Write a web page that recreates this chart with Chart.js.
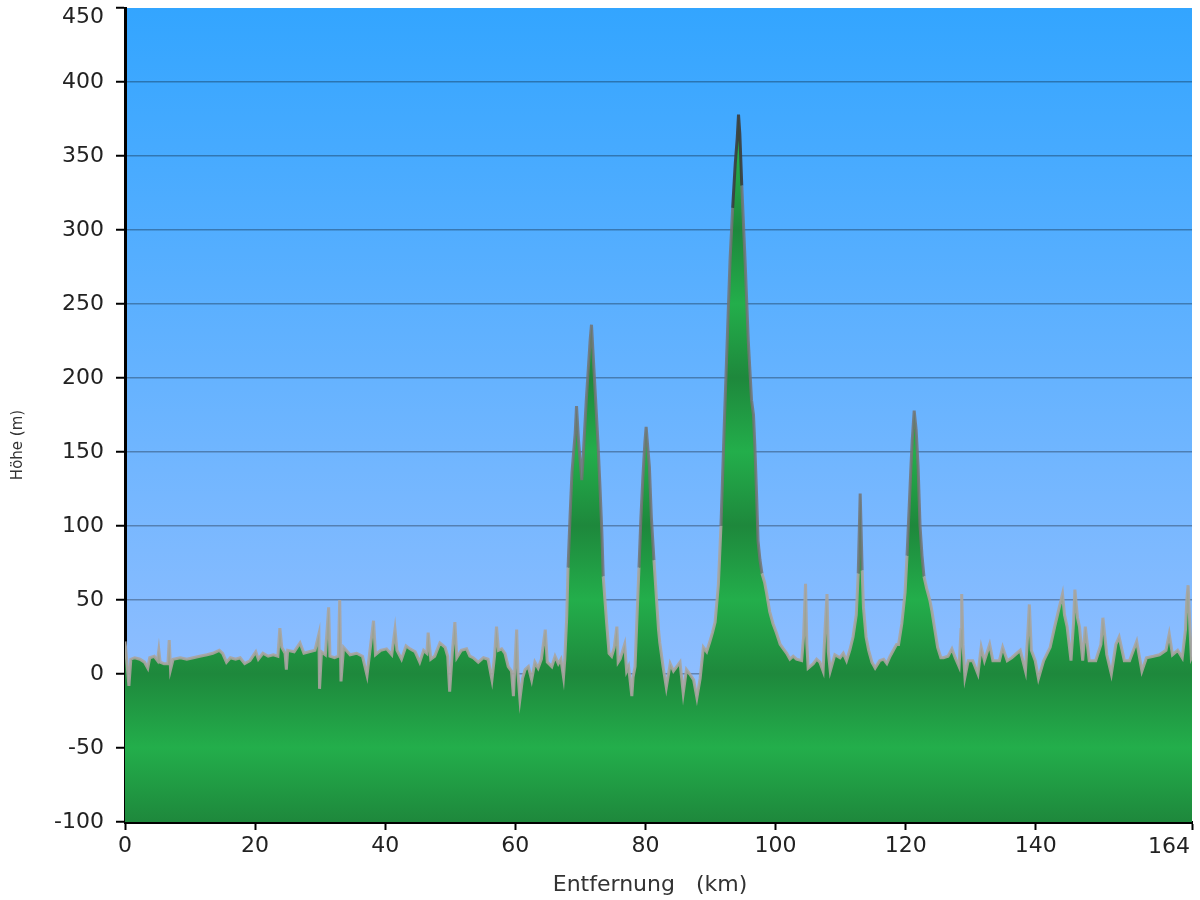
<!DOCTYPE html>
<html lang="de">
<head>
<meta charset="utf-8">
<title>Höhenprofil</title>
<script src="https://cdn.jsdelivr.net/npm/chart.js@4/dist/chart.umd.min.js"></script>
<style>
  html, body { margin: 0; padding: 0; background: #fff; }
  #wrap { width: 1200px; height: 900px; }
</style>
</head>
<body>
<div id="wrap"><canvas id="profil" width="1200" height="900"></canvas></div>
<script>
// ── Profile data ──
const entfernungKm = [
  0.0, 0.25, 0.6, 0.9, 1.5, 2.3, 3.0, 3.5, 3.8, 4.5,
  5.0, 5.2, 5.4, 6.0, 6.6, 6.8, 7.0, 7.4, 8.5, 9.5,
  10.5, 11.5, 12.6, 13.5, 14.5, 15.0, 15.6, 16.2, 17.0, 17.7,
  18.4, 19.2, 20.1, 20.5, 21.2, 22.0, 22.8, 23.5, 23.8, 24.1,
  24.6, 24.8, 25.0, 26.0, 26.9, 27.5, 28.3, 29.2, 29.8, 29.9,
  30.2, 30.8, 31.3, 31.5, 32.2, 32.8, 33.0, 33.2, 33.6, 34.6,
  35.6, 36.5, 37.2, 37.6, 38.2, 38.5, 39.3, 40.2, 41.0, 41.5,
  41.8, 42.5, 43.2, 43.8, 44.6, 45.3, 45.9, 46.4, 46.6, 47.0,
  47.6, 48.4, 49.2, 49.6, 49.9, 50.3, 50.7, 51.0, 51.7, 52.5,
  53.0, 53.5, 54.3, 55.1, 55.8, 56.4, 56.8, 57.1, 57.4, 57.9,
  58.4, 58.9, 59.4, 59.7, 60.2, 60.4, 60.7, 61.1, 61.5, 62.0,
  62.5, 63.0, 63.5, 64.0, 64.6, 64.9, 65.6, 66.1, 66.6, 67.0,
  67.4, 67.6, 67.9, 68.1, 68.4, 68.7, 68.9, 69.2, 69.4, 69.7,
  70.2, 70.4, 70.9, 71.5, 71.7, 72.2, 72.7, 73.0, 73.3, 73.5,
  74.0, 74.4, 74.8, 75.2, 75.6, 75.8, 76.1, 76.8, 77.1, 77.4,
  77.9, 78.1, 78.4, 78.7, 79.0, 79.3, 79.6, 79.9, 80.1, 80.3,
  80.6, 80.9, 81.3, 81.7, 82.0, 82.2, 82.7, 83.2, 83.8, 84.3,
  84.8, 85.3, 85.8, 86.3, 86.8, 87.4, 87.9, 88.4, 88.9, 89.4,
  89.9, 90.3, 90.7, 91.2, 91.6, 91.9, 92.2, 92.6, 93.0, 93.4,
  93.8, 94.1, 94.3, 94.5, 94.8, 95.3, 95.8, 96.3, 96.6, 96.8,
  97.1, 97.3, 97.6, 97.9, 98.3, 98.6, 99.1, 99.6, 100.1, 100.7,
  101.2, 101.7, 102.2, 102.7, 103.2, 104.0, 104.3, 104.6, 104.8, 105.0,
  105.8, 106.3, 106.8, 107.3, 107.6, 107.9, 108.1, 108.4, 109.1, 109.9,
  110.4, 110.9, 111.4, 111.9, 112.4, 112.7, 113.0, 113.3, 113.5, 113.9,
  114.3, 114.8, 115.3, 116.0, 116.6, 117.1, 117.6, 118.1, 118.6, 118.9,
  119.4, 119.9, 120.2, 120.5, 120.8, 121.0, 121.3, 121.6, 121.9, 122.2,
  122.5, 122.8, 123.2, 123.7, 124.0, 124.4, 124.9, 125.4, 125.8, 126.5,
  127.1, 127.6, 128.2, 128.5, 128.6, 128.8, 129.1, 129.6, 130.3, 131.1,
  131.6, 132.1, 132.9, 133.4, 134.4, 134.9, 135.6, 136.3, 137.6, 138.4,
  138.8, 139.0, 139.3, 139.9, 140.4, 141.2, 142.2, 142.9, 143.6, 144.1,
  144.4, 144.8, 145.4, 145.8, 146.0, 146.4, 146.7, 147.2, 147.6, 148.2,
  149.2, 150.0, 150.3, 150.9, 151.6, 152.3, 152.8, 153.6, 154.4, 155.5,
  156.3, 157.0, 158.1, 159.0, 160.0, 160.5, 161.0, 161.8, 162.5, 163.0,
  163.2, 163.4, 163.7, 163.9, 164.0
];

const hoeheM = [
  22, 10, -8, 10, 11, 10, 8, 4, 11, 12,
  9, 16, 8, 7, 7, 23, 3, 10, 11, 10,
  11, 12, 13, 14, 16, 14, 8, 11, 10, 11,
  7, 9, 15, 10, 14, 12, 13, 12, 31, 18,
  14, 3, 16, 15, 21, 14, 15, 16, 27, -10,
  15, 13, 45, 12, 11, 12, 50, -5, 18, 13,
  14, 12, -1, 14, 36, 13, 16, 17, 13, 30,
  16, 10, 19, 17, 15, 8, 16, 14, 28, 10,
  12, 21, 18, 12, -12, 14, 35, 11, 16, 17,
  12, 11, 8, 11, 10, -4, 12, 32, 16, 17,
  14, 5, 2, -15, 30, 0, -17, -3, 3, 5,
  -4, 8, 4, 10, 30, 8, 5, 12, 7, 10,
  -2, 10, 39, 72, 106, 136, 147, 163, 181, 158,
  131, 145, 185, 226, 236, 196, 156, 127, 95, 66,
  36, 14, 12, 18, 32, 8, 10, 20, 2, 5,
  -15, -2, 5, 39, 72, 106, 133, 156, 167, 156,
  140, 106, 77, 50, 30, 21, 5, -9, 7, 2,
  5, 8, -13, 3, 0, -4, -16, -3, 18, 15,
  22, 28, 35, 60, 100, 140, 180, 230, 280, 315,
  345, 362, 378, 365, 330, 280, 225, 185, 175, 155,
  118, 90, 77, 68, 62, 55, 42, 34, 28, 20,
  17, 14, 10, 12, 10, 9, 25, 61, 20, 4,
  7, 10, 8, 2, 30, 54, 15, 2, 13, 11,
  14, 9, 16, 25, 40, 68, 122, 70, 45, 25,
  16, 8, 4, 9, 10, 7, 12, 16, 20, 20,
  34, 55, 80, 110, 140, 158, 178, 165, 140, 100,
  80, 66, 58, 50, 43, 32, 18, 11, 11, 12,
  17, 11, 5, 30, 54, 20, -2, 9, 9, 0,
  18, 9, 20, 9, 9, 18, 9, 11, 16, 2,
  30, 47, 16, 9, -3, 9, 18, 32, 45, 54,
  40, 32, 9, 35, 57, 38, 32, 9, 32, 9,
  9, 20, 38, 13, 0, 20, 25, 9, 9, 22,
  2, 11, 12, 13, 16, 27, 13, 16, 11, 30,
  50, 60, 30, 11, 12
];

// ── Axis ticks ──
const xTickWerte = [0, 20, 40, 60, 80, 100, 120, 140, 164];
const yTickWerte = [-100, -50, 0, 50, 100, 150, 200, 250, 300, 350, 400, 450];

const tickFont = { family: 'DejaVu Sans', size: 22 };

// ── Sky background ──
const himmelPlugin = {
  id: 'himmel',
  beforeDraw(chart) {
    const { ctx, chartArea: a } = chart;
    ctx.save();
    ctx.fillStyle = '#fff';
    ctx.fillRect(0, 0, chart.width, chart.height);
    const g = ctx.createLinearGradient(0, a.top, 0, a.bottom);
    g.addColorStop(0, '#33a5ff');
    g.addColorStop(1, '#a2c3ff');
    ctx.fillStyle = g;
    ctx.fillRect(a.left, a.top, a.right - a.left, a.bottom - a.top);
    ctx.restore();
  }
};

// ── Axis titles + the two end labels that sit inside the canvas ──
const titelPlugin = {
  id: 'titel',
  afterDraw(chart) {
    const { ctx } = chart;
    const x = chart.scales.x, y = chart.scales.y;
    const yTop = yTickWerte[yTickWerte.length - 1];
    const xEnd = xTickWerte[xTickWerte.length - 1];
    ctx.save();
    ctx.fillStyle = '#222';
    ctx.font = '22px "DejaVu Sans"';
    ctx.textBaseline = 'middle';
    ctx.textAlign = 'right';
    ctx.fillText(String(yTop), y.right - 21, y.getPixelForValue(yTop) + 9);
    ctx.textBaseline = 'top';
    ctx.fillText(String(xEnd), x.getPixelForValue(xEnd) - 2, x.top + 14);

    ctx.fillStyle = '#333';
    ctx.textAlign = 'center';
    ctx.textBaseline = 'middle';
    ctx.fillText('Entfernung   (km)', 650, 885);
    ctx.translate(18, 445);
    ctx.rotate(-Math.PI / 2);
    ctx.font = '15px "DejaVu Sans"';
    ctx.fillText('Höhe (m)', 0, 0);
    ctx.restore();
  }
};

// banded green fill, dark at every 100 m, light in between
function gelaendeFill(context) {
  const chart = context.chart;
  const a = chart.chartArea;
  if (!a) return '#1f8a3d';
  const y = chart.scales.y;
  const g = chart.ctx.createLinearGradient(0, a.bottom, 0, a.top);
  yTickWerte.forEach(v => {
    const t = (a.bottom - y.getPixelForValue(v)) / (a.bottom - a.top);
    g.addColorStop(Math.min(1, Math.max(0, t)), v % 100 === 0 ? '#1e883c' : '#23ae4b');
  });
  return g;
}

// outline: light grey on the flat, darker on the steep flanks
function randFarbe(ctx) {
  const h0 = hoeheM[ctx.p0DataIndex], h1 = hoeheM[ctx.p1DataIndex];
  const s = Math.abs(ctx.p1.y - ctx.p0.y) / Math.max(1, Math.abs(ctx.p1.x - ctx.p0.x));
  if (Math.min(h0, h1) > 300) return 'rgba(60,60,60,0.9)';
  if (Math.min(h0, h1) > 60 && s > 4) return 'rgba(115,115,115,0.85)';
  return 'rgba(170,164,158,0.9)';
}

const punkte = () => entfernungKm.map((km, i) => ({ x: km, y: hoeheM[i] }));

new Chart(document.getElementById('profil'), {
  type: 'line',
  data: {
    datasets: [{
      label: 'Rand',
      data: punkte(),
      fill: false,
      borderColor: 'rgba(170,164,158,0.9)',
      borderWidth: 3,
      segment: { borderColor: randFarbe },
      pointRadius: 0,
      tension: 0,
      order: 0
    }, {
      label: 'Höhe',
      data: punkte(),
      fill: 'start',
      backgroundColor: gelaendeFill,
      borderWidth: 0,
      pointRadius: 0,
      tension: 0,
      order: 1
    }]
  },
  options: {
    responsive: false,
    animation: false,
    layout: { padding: { top: 8, right: 8, left: 0, bottom: 0 } },
    plugins: { legend: { display: false }, tooltip: { enabled: false } },
    scales: {
      x: {
        type: 'linear',
        min: 0,
        max: 164,
        z: 1,
        afterBuildTicks: s => { s.ticks = xTickWerte.map(v => ({ value: v })); },
        afterFit: s => { s.height = 78; s.paddingLeft = 0; s.paddingRight = 0; },
        border: { color: '#000', width: 3 },
        grid: { drawOnChartArea: false, tickColor: '#000', tickLength: 8, tickWidth: 2 },
        ticks: {
          color: '#222',
          font: tickFont,
          padding: 3,
          maxRotation: 0,
          autoSkip: false,
          callback: v => (v === 164 ? '' : v)
        }
      },
      y: {
        min: -100,
        max: 450,
        z: 1,
        afterBuildTicks: s => { s.ticks = yTickWerte.map(v => ({ value: v })); },
        afterFit: s => { s.width = 125; s.paddingTop = 0; s.paddingBottom = 0; },
        border: { color: '#000', width: 3 },
        grid: {
          color: c => (c.tick && (c.tick.value === 450 || c.tick.value === -100)) ? 'rgba(0,0,0,0)' : 'rgba(0,0,0,0.3)',
          lineWidth: 1.5,
          tickColor: '#000',
          tickLength: 9,
          tickWidth: 2
        },
        ticks: {
          color: '#222',
          font: tickFont,
          padding: 12,
          autoSkip: false,
          callback: v => (v === 450 ? '' : v)
        }
      }
    }
  },
  plugins: [himmelPlugin, titelPlugin]
});
</script>
</body>
</html>
